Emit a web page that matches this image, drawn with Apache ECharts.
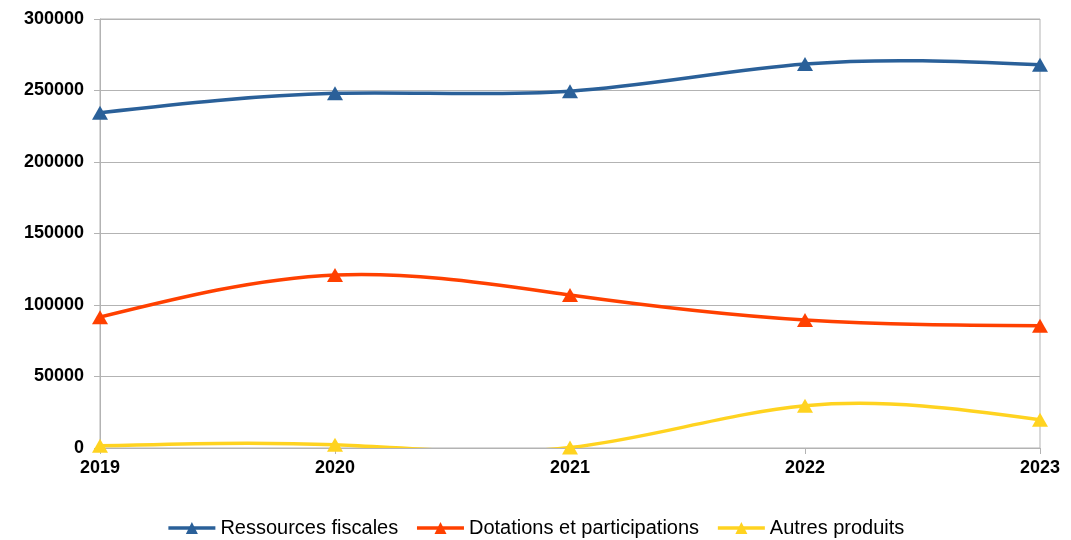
<!DOCTYPE html>
<html>
<head>
<meta charset="utf-8">
<style>
  html, body { margin: 0; padding: 0; background: #ffffff; }
  #chart { width: 1071px; height: 540px; }
</style>
<script src="https://cdn.jsdelivr.net/npm/echarts@6/dist/echarts.min.js"></script>
</head>
<body>
<div id="chart"></div>
<script>
// Years on the horizontal axis
const years = ['2019', '2020', '2021', '2022', '2023'];

// Revenue series (euros)
const ressourcesFiscales = [234500, 248000, 249500, 268500, 268000];
const dotationsParticipations = [91500, 121000, 107000, 89500, 85500];
const autresProduits = [1500, 2200, 300, 29500, 19800];

const seriesNames = ['Ressources fiscales', 'Dotations et participations', 'Autres produits'];
const seriesColors = ['#2a6099', '#ff4000', '#ffd320'];
const allValues = [ressourcesFiscales, dotationsParticipations, autresProduits];

// Second derivatives of a natural cubic spline through equally spaced values
function splineSecondDerivatives(ys) {
  const n = ys.length;
  const m = new Array(n).fill(0);
  if (n < 3) return m;
  const c = new Array(n).fill(0);
  const d = new Array(n).fill(0);
  for (let i = 1; i < n - 1; i++) {
    const rhs = 6 * (ys[i + 1] - 2 * ys[i] + ys[i - 1]);
    const denom = 4 - (i > 1 ? c[i - 1] : 0);
    c[i] = 1 / denom;
    d[i] = (rhs - (i > 1 ? d[i - 1] : 0)) / denom;
  }
  for (let i = n - 2; i >= 1; i--) {
    m[i] = d[i] - c[i] * m[i + 1];
  }
  return m;
}

// Custom series drawing the spline curve through the axis coordinates
function splineCurve(values, color) {
  return {
    type: 'custom',
    silent: true,
    clip: true,
    data: values.map((v, i) => [i, v]),
    encode: { x: 0, y: 1 },
    renderItem: function (params, api) {
      if (params.dataIndex !== 0) return null;
      const m = splineSecondDerivatives(values);
      const pts = values.map((v, i) => api.coord([i, v]));
      let path = 'M' + pts[0][0] + ' ' + pts[0][1];
      for (let i = 0; i < values.length - 1; i++) {
        const dy = values[i + 1] - values[i];
        const s0 = dy - (2 * m[i] + m[i + 1]) / 6;
        const s1 = dy + (m[i] + 2 * m[i + 1]) / 6;
        const x0 = pts[i][0], x1 = pts[i + 1][0];
        const c1x = x0 + (x1 - x0) / 3;
        const c2x = x0 + 2 * (x1 - x0) / 3;
        const c1y = api.coord([i, values[i] + s0 / 3])[1];
        const c2y = api.coord([i, values[i + 1] - s1 / 3])[1];
        path += ' C' + c1x + ' ' + c1y + ' ' + c2x + ' ' + c2y + ' ' + x1 + ' ' + pts[i + 1][1];
      }
      return {
        type: 'path',
        shape: { pathData: path },
        style: { stroke: color, lineWidth: 3.5, fill: 'none', lineJoin: 'round', lineCap: 'round' }
      };
    }
  };
}

// Line series carrying the triangle markers and the legend entries
function markerSeries(name, data, color) {
  return {
    name: name,
    type: 'line',
    data: data,
    symbol: 'triangle',
    symbolSize: [16, 14],
    lineStyle: { width: 3.5, color: color, opacity: 0 },
    itemStyle: { color: color },
    emphasis: { disabled: true }
  };
}

const chart = echarts.init(document.getElementById('chart'));

chart.setOption({
  animation: false,
  textStyle: { fontFamily: '"Liberation Sans", Arial, sans-serif' },
  grid: {
    left: 100, right: 31, top: 19, bottom: 92,
    show: true, borderColor: '#b3b3b3', borderWidth: 1
  },
  legend: {
    top: 513,
    left: 'center',
    itemWidth: 47,
    itemHeight: 15,
    itemGap: 17,
    lineStyle: { opacity: 1, width: 3.5 },
    textStyle: { fontSize: 20, color: '#000000' },
    data: seriesNames
  },
  xAxis: {
    type: 'category',
    data: years,
    boundaryGap: false,
    axisLine: { lineStyle: { color: '#b3b3b3', width: 1 } },
    axisTick: { show: true, alignWithLabel: true, length: 6, lineStyle: { color: '#b3b3b3' } },
    axisLabel: { color: '#000000', fontSize: 18, fontWeight: 'bold', margin: 11 },
    splitLine: { show: false }
  },
  yAxis: {
    type: 'value',
    min: 0,
    max: 300000,
    interval: 50000,
    axisLine: { show: true, lineStyle: { color: '#b3b3b3', width: 1 } },
    axisTick: { show: true, length: 6, lineStyle: { color: '#b3b3b3' } },
    axisLabel: {
      color: '#000000', fontSize: 18, fontWeight: 'bold', margin: 16,
      formatter: function (v) { return String(v); }
    },
    splitLine: { show: true, lineStyle: { color: '#b3b3b3', width: 1 } }
  },
  series: [
    splineCurve(allValues[0], seriesColors[0]),
    splineCurve(allValues[1], seriesColors[1]),
    splineCurve(allValues[2], seriesColors[2]),
    markerSeries(seriesNames[0], allValues[0], seriesColors[0]),
    markerSeries(seriesNames[1], allValues[1], seriesColors[1]),
    markerSeries(seriesNames[2], allValues[2], seriesColors[2])
  ]
});
</script>
</body>
</html>
